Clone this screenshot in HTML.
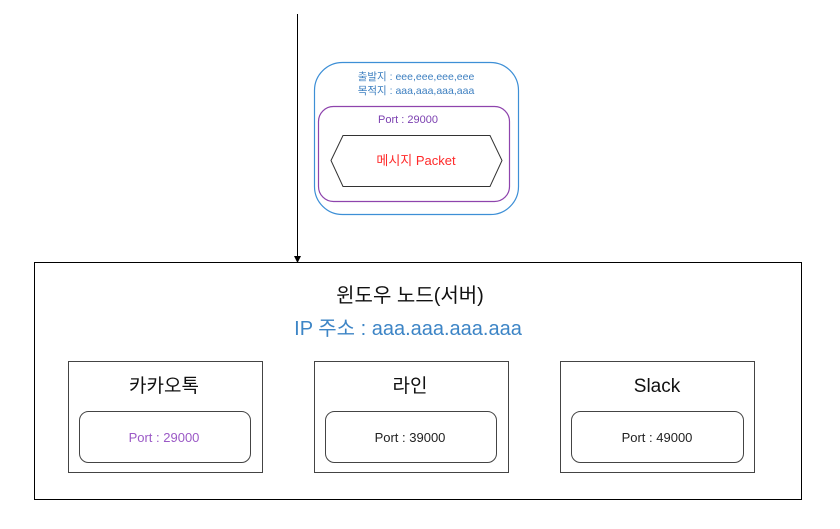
<!DOCTYPE html>
<html><head><meta charset="utf-8"><style>
html,body{margin:0;padding:0;background:#fff;width:840px;height:529px;overflow:hidden}
svg{display:block}
text{font-family:"Liberation Sans","Noto Sans CJK KR",sans-serif}
</style></head><body>
<svg width="840" height="529" viewBox="0 0 840 529" xmlns="http://www.w3.org/2000/svg">
<line x1="297.5" y1="14" x2="297.5" y2="256" stroke="#000" stroke-width="1"/>
<polygon points="294,256 301,256 297.5,263" fill="#000"/>
<rect x="34.5" y="262.5" width="767" height="237" fill="none" stroke="#000" stroke-width="1"/>
<text x="410" y="302" font-size="20" text-anchor="middle" fill="#111">윈도우 노드(서버)</text>
<text x="408" y="335" font-size="20" text-anchor="middle" fill="#3d85c6">IP 주소 : aaa.aaa.aaa.aaa</text>

<rect x="314.5" y="62.5" width="204" height="152" rx="28" fill="none" stroke="#3d8fd6" stroke-width="1.2"/>
<text x="416" y="80" font-size="10.5" text-anchor="middle" fill="#3d7fc0">출발지 : eee,eee,eee,eee</text>
<text x="416" y="94" font-size="10.5" text-anchor="middle" fill="#3d7fc0">목적지 : aaa,aaa,aaa,aaa</text>
<rect x="318.5" y="106.5" width="191" height="95" rx="15" fill="none" stroke="#8e44ad" stroke-width="1.2"/>
<text x="408" y="123" font-size="11" text-anchor="middle" fill="#7b3fb0">Port : 29000</text>
<polygon points="331,160.5 343,135.5 490,135.5 502,160.5 490,186.5 343,186.5" fill="none" stroke="#333" stroke-width="1"/>
<text x="416" y="165" font-size="13" text-anchor="middle" fill="#ff2a2a">메시지 Packet</text>

<g stroke="#444" stroke-width="1" fill="none">
<rect x="68.5" y="361.5" width="194" height="111"/>
<rect x="314.5" y="361.5" width="194" height="111"/>
<rect x="560.5" y="361.5" width="194" height="111"/>
<rect x="79.5" y="411.5" width="171" height="51" rx="9"/>
<rect x="325.5" y="411.5" width="171" height="51" rx="9"/>
<rect x="571.5" y="411.5" width="172" height="51" rx="9"/>
</g>
<text x="164" y="392" font-size="19" text-anchor="middle" fill="#111">카카오톡</text>
<text x="410" y="392" font-size="19" text-anchor="middle" fill="#111">라인</text>
<text x="657" y="392" font-size="19" text-anchor="middle" fill="#111">Slack</text>
<text x="164" y="442" font-size="13" text-anchor="middle" fill="#9b59c6">Port : 29000</text>
<text x="410" y="442" font-size="13" text-anchor="middle" fill="#222">Port : 39000</text>
<text x="657" y="442" font-size="13" text-anchor="middle" fill="#222">Port : 49000</text>
</svg>
</body></html>
